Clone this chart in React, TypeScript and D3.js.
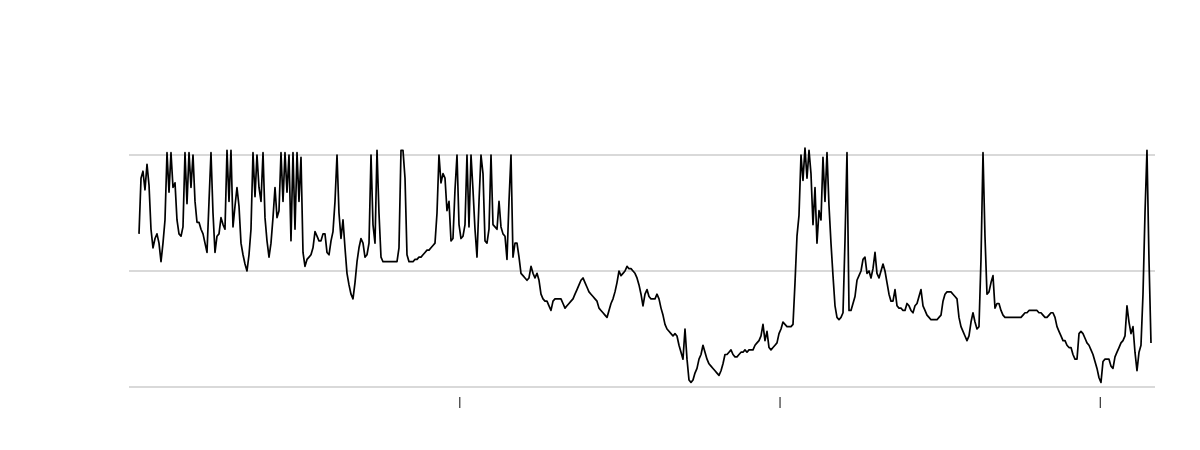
import * as d3 from "d3";
import { useEffect, useRef } from "react";

const width = 1200;
const height = 450;

// series start and sampling interval (days between readings)
const startDate = new Date(2017, 0, 1);
const dayStep = 2.2793;

const values = [
  66, 90, 93, 85, 96, 87, 68, 60, 64, 66,
  62, 54, 62, 72, 101, 84, 101, 86, 88, 72,
  66, 65, 69, 101, 79, 101, 86, 100, 80, 71,
  71, 68, 66, 62, 58, 80, 101, 75, 58, 65,
  66, 73, 70, 68, 102, 80, 102, 69, 78, 86,
  78, 62, 57, 53, 50, 57, 68, 101, 82, 100,
  86, 80, 101, 73, 63, 56, 62, 73, 86, 73,
  76, 101, 80, 101, 84, 100, 63, 101, 68, 101,
  80, 99, 58, 52, 55, 56, 57, 60, 67, 65,
  63, 63, 66, 66, 58, 57, 63, 67, 80, 100,
  75, 64, 72, 60, 49, 44, 40, 38, 45, 54,
  60, 64, 62, 56, 57, 62, 100, 70, 62, 102,
  75, 56, 54, 54, 54, 54, 54, 54, 54, 54,
  60, 102, 102, 90, 57, 54, 54, 54, 55, 55,
  56, 56, 57, 58, 59, 59, 60, 61, 62, 75,
  100, 88, 92, 90, 76, 80, 63, 64, 85, 100,
  70, 64, 65, 70, 100, 69, 100, 85, 68, 56,
  80, 100, 92, 63, 62, 68, 100, 70, 69, 68,
  80, 69, 66, 65, 55, 80, 100, 56, 62, 62,
  56, 49, 48, 47, 46, 47, 52, 49, 47, 49,
  46, 40, 38, 37, 37, 35, 33, 37, 38, 38,
  38, 38, 36, 34, 35, 36, 37, 38, 40, 42,
  44, 46, 47, 45, 43, 41, 40, 39, 38, 37,
  34, 33, 32, 31, 30, 33, 36, 38, 41, 45,
  50, 48, 49, 50, 52, 51, 51, 50, 49, 47,
  44, 40, 35, 40, 42, 39, 38, 38, 38, 40,
  38, 34, 31, 27, 25, 24, 23, 22, 23, 22,
  18, 15, 12, 25, 12, 3, 2, 3, 6, 8,
  12, 14, 18, 15, 12, 10, 9, 8, 7, 6,
  5, 7, 10, 14, 14, 15, 16, 14, 13, 13,
  14, 15, 15, 16, 15, 16, 16, 16, 18, 19,
  20, 22, 27, 20, 24, 17, 16, 17, 18, 19,
  23, 25, 28, 27, 26, 26, 26, 27, 45, 65,
  74, 100, 89, 103, 90, 102, 92, 70, 86, 62,
  76, 72, 99, 80, 101, 78, 62, 48, 35, 30,
  29, 30, 32, 63, 101, 33, 33, 36, 39, 46,
  48, 50, 55, 56, 49, 50, 47, 51, 58, 49,
  47, 50, 53, 50, 45, 40, 37, 37, 42, 35,
  34, 34, 33, 33, 36, 35, 33, 32, 35, 36,
  39, 42, 35, 33, 31, 30, 29, 29, 29, 29,
  30, 31, 37, 40, 41, 41, 41, 40, 39, 38,
  30, 26, 24, 22, 20, 22, 28, 32, 28, 25,
  26, 55, 101, 65, 40, 41, 45, 48, 34, 36,
  36, 33, 31, 30, 30, 30, 30, 30, 30, 30,
  30, 30, 31, 32, 32, 33, 33, 33, 33, 33,
  32, 32, 31, 30, 30, 31, 32, 32, 30, 26,
  24, 22, 20, 20, 18, 17, 17, 14, 12, 12,
  23, 24, 23, 21, 19, 18, 16, 14, 11, 8,
  4, 2, 11, 12, 12, 12, 9, 8, 13, 15,
  17, 19, 20, 22, 35, 28, 23, 26, 15, 7,
  15, 18, 40, 75, 102, 55, 19,
];

const gridValues = [0, 50, 100];

export default function App() {
  const ref = useRef<SVGSVGElement>(null);

  useEffect(() => {
    const svg = d3.select(ref.current);
    svg.selectAll("*").remove();

    const data = values.map((v, i) => ({
      date: d3.timeHour.offset(startDate, Math.round(i * dayStep * 24)),
      value: v,
    }));

    const x = d3
      .scaleTime()
      .domain(d3.extent(data, (d) => d.date) as [Date, Date])
      .range([139, 1151]);

    const y = d3.scaleLinear().domain([0, 100]).range([387, 155]);

    svg
      .append("g")
      .selectAll("line")
      .data(gridValues)
      .join("line")
      .attr("x1", 129)
      .attr("x2", 1155)
      .attr("y1", (d) => y(d))
      .attr("y2", (d) => y(d))
      .attr("stroke", "#cccccc")
      .attr("stroke-width", 1.5);

    // yearly ticks, skipping the one at the very start of the series
    const yearTicks = x
      .ticks(d3.timeYear.every(1) as d3.TimeInterval)
      .filter((d) => +d > +startDate);

    const axis = svg
      .append("g")
      .attr("transform", "translate(0,397)")
      .call(
        d3
          .axisBottom(x)
          .tickValues(yearTicks)
          .tickSize(11)
          .tickFormat(() => "")
      );
    axis.select(".domain").remove();
    axis.selectAll(".tick line").attr("stroke", "#333").attr("stroke-width", 1.2);

    const line = d3
      .line<{ date: Date; value: number }>()
      .x((d) => x(d.date))
      .y((d) => y(d.value));

    svg
      .append("path")
      .datum(data)
      .attr("d", line)
      .attr("fill", "none")
      .attr("stroke", "#000")
      .attr("stroke-width", 1.7)
      .attr("stroke-linejoin", "round");
  }, []);

  return (
    <svg
      ref={ref}
      width={width}
      height={height}
      style={{ position: "absolute", left: 0, top: 0, background: "#fff" }}
    />
  );
}
